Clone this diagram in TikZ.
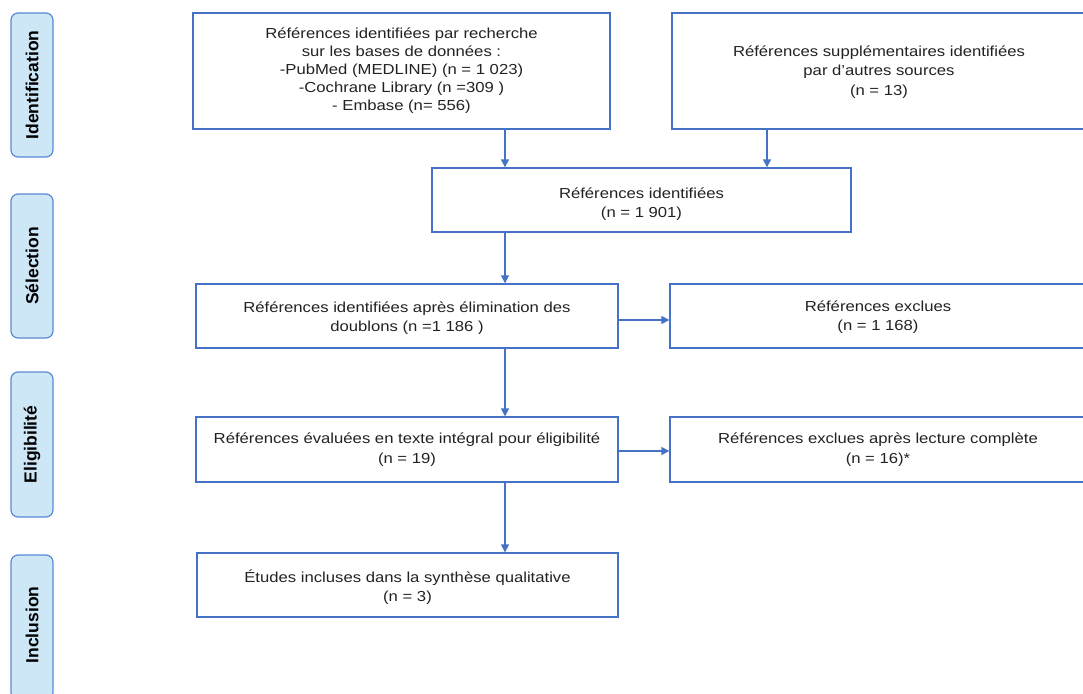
\documentclass[tikz,border=0pt]{standalone}
\usepackage{fontspec}
\setmainfont{Liberation Sans}[FakeStretch=1.15]
\newfontfamily\sidefont{Liberation Sans}
\usetikzlibrary{arrows.meta}
\definecolor{lineblue}{HTML}{4472C4}
\definecolor{sideblue}{HTML}{CDE7F7}
\definecolor{sideedge}{HTML}{5A8AD0}
\definecolor{txt}{HTML}{222222}
\tikzset{
  box/.style={draw=lineblue, line width=1.4pt, rectangle, inner sep=0pt},
  label5/.style={align=center, inner sep=0pt, font=\fontsize{14.5}{18}\selectfont, text=txt},
  label2/.style={align=center, inner sep=0pt, font=\fontsize{14.5}{19.5}\selectfont, text=txt},
  side/.style={draw=sideedge, fill=sideblue, line width=1.2pt, rounded corners=7pt,
    rectangle, minimum width=42pt, inner sep=0pt},
  sidetext/.style={rotate=90, font=\sidefont\fontsize{17.5}{20}\selectfont\bfseries, text=black},
  arr/.style={draw=lineblue, line width=1.4pt, -{Triangle[length=8pt,width=8pt]}}
}
\begin{document}
\begin{tikzpicture}[x=1pt,y=-1pt]
\useasboundingbox (0,0) rectangle (1083,693);
\clip (0,0) rectangle (1083,693);
% side labels
\node[side, minimum height=144pt] (s1) at (32,85) {};
\node[sidetext] (t1) at (s1.center) {Identification};
\node[side, minimum height=144pt] (s2) at (32,266) {};
\node[sidetext] (t2) at (s2.center) {Sélection};
\node[side, minimum height=145pt] (s3) at (32,444.5) {};
\node[sidetext] (t3) at (s3.center) {Eligibilité};
\node[side, minimum height=145pt] (s4) at (32,627.5) {};
\node[sidetext] (t4) at (32,625) {Inclusion};
% boxes
\node[box, minimum width=417pt, minimum height=116pt] (b1) at (401.5,71) {};
\node[label5] (b1t) at (401.5,71)
  {Références identifiées par recherche\\sur les bases de données :\\-PubMed (MEDLINE) (n = 1 023)\\-Cochrane Library (n =309 )\\- Embase (n= 556)};
\node[box, minimum width=414pt, minimum height=116pt] (b2) at (879,71) {};
\node[label2] (b2t) at (879,72)
  {Références supplémentaires identifiées\\par d’autres sources\\(n = 13)};
\node[box, minimum width=419pt, minimum height=64pt] (b3) at (641.5,200) {};
\node[label2] (b3t) at (641.5,204)
  {Références identifiées\\(n = 1 901)};
\node[box, minimum width=422pt, minimum height=64pt] (b4) at (407,316) {};
\node[label2] (b4t) at (407,318)
  {Références identifiées après élimination des\\doublons (n =1 186 )};
\node[box, minimum width=416pt, minimum height=64pt] (b5) at (878,316) {};
\node[label2] (b5t) at (878,317)
  {Références exclues\\(n = 1 168)};
\node[box, minimum width=422pt, minimum height=65pt] (b6) at (407,449.5) {};
\node[label2] (b6t) at (407,449.5)
  {Références évaluées en texte intégral pour éligibilité\\(n = 19)};
\node[box, minimum width=416pt, minimum height=65pt] (b7) at (878,449.5) {};
\node[label2] (b7t) at (878,449.5)
  {Références exclues après lecture complète\\(n = 16)*};
\node[box, minimum width=421pt, minimum height=64pt] (b8) at (407.5,585) {};
\node[label2] (b8t) at (407.5,587)
  {Études incluses dans la synthèse qualitative\\(n = 3)};
% connectors
\coordinate (cx) at (505,0);
\coordinate (cy) at (767,0);
\coordinate (h1) at (0,320);
\coordinate (h2) at (0,451);
\draw[arr] (b1.south -| cx) -- (b3.north -| cx);
\draw[arr] (b2.south -| cy) -- (b3.north -| cy);
\draw[arr] (b3.south -| cx) -- (b4.north -| cx);
\draw[arr] (b4.south -| cx) -- (b6.north -| cx);
\draw[arr] (b6.south -| cx) -- (b8.north -| cx);
\draw[arr] (b4.east |- h1) -- (b5.west |- h1);
\draw[arr] (b6.east |- h2) -- (b7.west |- h2);
\end{tikzpicture}
\end{document}
